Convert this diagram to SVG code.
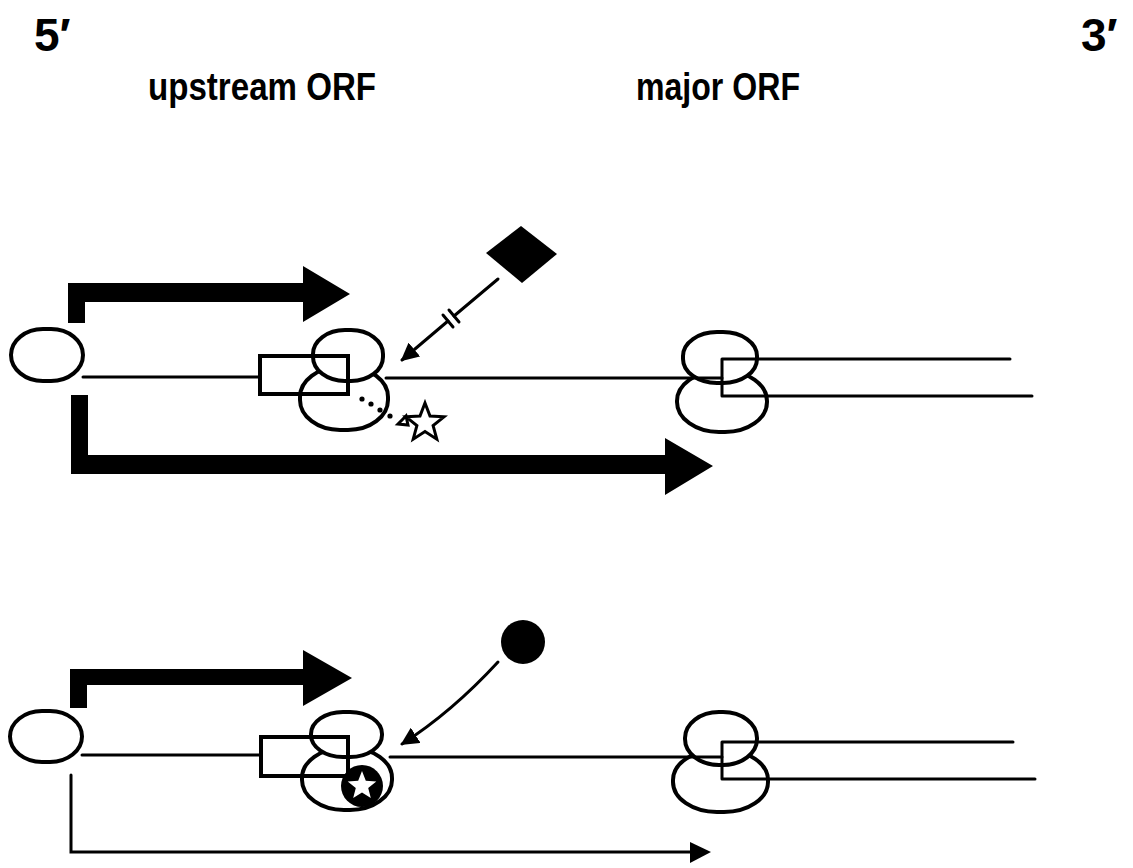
<svg xmlns="http://www.w3.org/2000/svg" width="1133" height="868" viewBox="0 0 1133 868">
  <style>
    .lbl { font-family: "Liberation Sans", Arial, sans-serif; font-weight: bold; fill: #000; }
    .ol { fill: #fff; stroke: #000; stroke-width: 4; }
    .box { fill: none; stroke: #000; stroke-width: 4; }
    .rna { fill: none; stroke: #000; stroke-width: 3; stroke-linecap: round; }
    .solid { fill: #000; stroke: none; }
  </style>
  <defs>
    <marker id="tip" viewBox="0 0 10 10" refX="9" refY="5" markerWidth="6" markerHeight="6" orient="auto" markerUnits="strokeWidth">
      <path d="M0 0 L10 5 L0 10 Z" fill="#000"/>
    </marker>
  </defs>
  <rect width="1133" height="868" fill="#fff"/>

  <!-- labels -->
  <g id="labels">
    <text class="lbl" x="34" y="51" font-size="46">5′</text>
    <text class="lbl" x="1081" y="51" font-size="46">3′</text>
    <text class="lbl" x="148" y="100" font-size="39" textLength="228" lengthAdjust="spacingAndGlyphs">upstream ORF</text>
    <text class="lbl" x="636" y="100" font-size="39" textLength="164" lengthAdjust="spacingAndGlyphs">major ORF</text>
  </g>

  <!-- ===== upper panel ===== -->
  <g id="cap-top">
    <rect class="ol" x="11" y="329" width="72" height="52" rx="32" ry="26"/>
  </g>
  <g id="ribosome-uorf-top">
    <rect class="ol" x="300" y="367" width="88" height="63" rx="40" ry="30"/>
    <rect class="ol" x="313" y="330" width="70" height="51" rx="32" ry="24"/>
    <rect class="box" x="260" y="356" width="88" height="38"/>
  </g>
  <g id="ribosome-major-top">
    <rect class="ol" x="677" y="371" width="90" height="61" rx="42" ry="30"/>
    <rect class="ol" x="683" y="332" width="74" height="51" rx="34" ry="24"/>
  </g>
  <g id="repressor-top">
    <polygon class="solid" points="521,226 557,254 522,283 486,253"/>
  </g>
  <g id="released-star">
    <polygon points="425,403 430,416.1 444,416.8 433.1,425.6 436.8,439.2 425,431.5 413.2,439.2 416.9,425.6 406,416.8 420,416.1" fill="#fff" stroke="#000" stroke-width="3" stroke-linejoin="miter"/>
    <polygon points="398,424 406,416 408,425" fill="#fff" stroke="#000" stroke-width="3"/>
  </g>
  <g id="scan-arrows-top">
    <path class="solid" d="M68 323 V283 H303 V266 L350 294 L303 322 V302 H85 V323 Z"/>
    <path class="solid" d="M71 395 V474 H665 V495 L713 466 L665 438 V455 H88 V395 Z"/>
  </g>

  <!-- ===== lower panel ===== -->
  <g id="cap-bottom">
    <rect class="ol" x="10" y="711" width="72" height="51" rx="32" ry="26"/>
  </g>
  <g id="ribosome-uorf-bottom">
    <rect class="ol" x="302" y="748" width="90" height="62" rx="42" ry="30"/>
    <rect class="ol" x="311" y="712" width="71" height="45" rx="32" ry="22"/>
    <circle class="solid" cx="362" cy="786" r="21"/>
    <polygon fill="#fff" points="362,771 365.8,780.7 376.3,781.4 368.2,788 370.8,798.1 362,792.5 353.2,798.1 355.8,788 347.7,781.4 358.2,780.7"/>
    <rect class="box" x="261" y="737" width="87" height="39"/>
  </g>
  <g id="ribosome-major-bottom">
    <rect class="ol" x="673" y="750" width="95" height="62" rx="44" ry="30"/>
    <rect class="ol" x="685" y="712" width="72" height="53" rx="34" ry="26"/>
  </g>
  <g id="effector-bottom">
    <circle class="solid" cx="523" cy="642" r="22"/>
  </g>
  <g id="scan-arrows-bottom">
    <path class="solid" d="M70 708 V669 H303 V650 L352 678 L303 706 V685 H87 V708 Z"/>
  </g>

  <!-- connectors: mRNA strands, ORF lines and interaction arrows -->
  <g id="connectors">
    <!-- upper mRNA -->
    <path class="rna" d="M83 377 H260"/>
    <path class="rna" d="M386 378 H722"/>
    <path class="rna" d="M722 359 H1010 M722 359 V396 H1032" stroke-linejoin="round"/>
    <!-- diamond to ribosome, interrupted -->
    <path class="rna" d="M498 279 L454 316"/>
    <path class="rna" d="M448 321 L402 360" marker-end="url(#tip)"/>
    <path class="rna" d="M449 310 L459 322 M443 315 L453 327"/>
    <!-- release path -->
    <g fill="#000">
      <circle cx="362" cy="399" r="2.6"/>
      <circle cx="371" cy="404" r="2.6"/>
      <circle cx="380" cy="410" r="2.6"/>
      <circle cx="390" cy="416" r="2.6"/>
    </g>
    <!-- lower mRNA -->
    <path class="rna" d="M82 755 H261"/>
    <path class="rna" d="M390 757 H722"/>
    <path class="rna" d="M722 742 H1013 M722 742 V779 H1035" stroke-linejoin="round"/>
    <!-- effector to ribosome -->
    <path class="rna" d="M498 662 Q452 712 402 744" marker-end="url(#tip)"/>
    <!-- thin bypass arrow -->
    <path class="rna" d="M71 775 V852 H692"/>
    <polygon class="solid" points="690,842 711,852 690,863"/>
  </g>
</svg>
